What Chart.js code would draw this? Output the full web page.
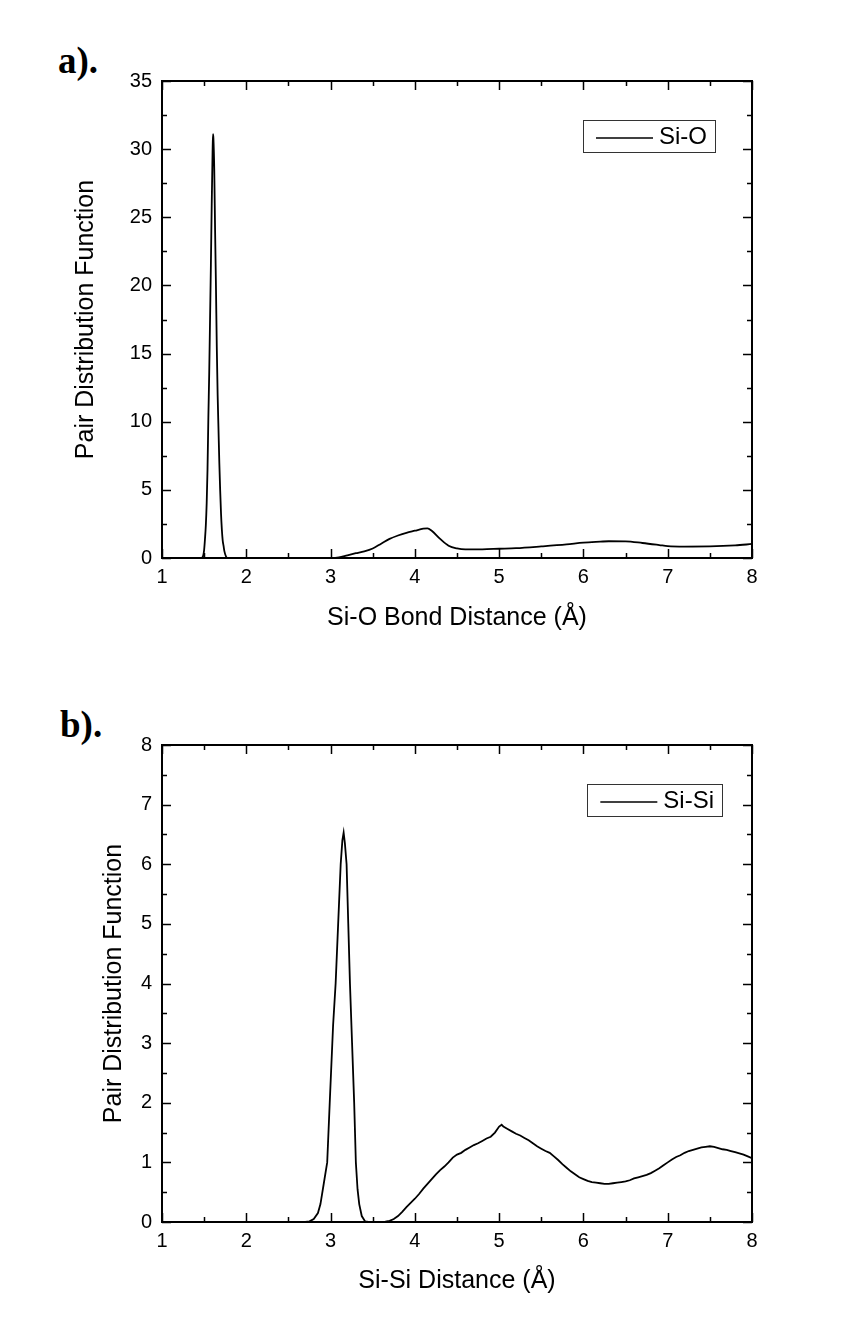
<!DOCTYPE html>
<html><head><meta charset="utf-8">
<script src="https://cdn.jsdelivr.net/npm/chart.js@4/dist/chart.umd.min.js"></script>
<style>
html,body{margin:0;padding:0;background:#fff;width:856px;height:1320px;overflow:hidden}
.panel{position:absolute;left:0;width:856px}
.lbl{position:absolute;font:bold 37px "Liberation Serif","Times New Roman",serif;line-height:1;color:#000}
</style></head><body>
<div class="lbl" style="left:58px;top:42px">a).</div>
<div class="panel" style="top:0;height:660px"><canvas id="ca"></canvas></div>
<div class="lbl" style="left:60px;top:706px">b).</div>
<div class="panel" style="top:664px;height:656px"><canvas id="cb"></canvas></div>
<script>
// ---- Data ----
const siOLabel = "Si-O";
const siOX = [1.0, 1.46, 1.48, 1.49, 1.50, 1.51, 1.52, 1.53, 1.54, 1.55, 1.56, 1.57, 1.58, 1.59, 1.60, 1.605, 1.61, 1.62, 1.63, 1.64, 1.65, 1.66, 1.67, 1.68, 1.69, 1.70, 1.71, 1.72, 1.73, 1.74, 1.76, 1.78,
  3.0, 3.1, 3.2, 3.3, 3.4, 3.5, 3.6, 3.7, 3.8, 3.9, 4.0, 4.1, 4.15, 4.2, 4.3, 4.4, 4.5, 4.6, 4.8, 5.0, 5.2, 5.5, 5.8, 6.0, 6.2, 6.3, 6.5, 6.7, 6.9, 7.0, 7.2, 7.5, 7.8, 8.0];
const siOY = [0, 0, 0.05, 0.2, 0.6, 1.4, 2.4, 4.0, 6.5, 10.3, 13.5, 17.5, 21.5, 26, 29.8, 31.1, 30.8, 28.5, 24, 20, 15.5, 12, 9.5, 7, 5, 3.3, 2.1, 1.3, 0.9, 0.5, 0.1, 0,
  0, 0.04, 0.2, 0.35, 0.49, 0.7, 1.05, 1.4, 1.65, 1.85, 2.0, 2.15, 2.18, 2.0, 1.4, 0.9, 0.7, 0.63, 0.64, 0.68, 0.72, 0.85, 1.0, 1.13, 1.2, 1.23, 1.22, 1.1, 0.95, 0.87, 0.84, 0.85, 0.92, 1.03];

const siSiLabel = "Si-Si";
const siSiX = [1.0, 2.70, 2.75, 2.80, 2.85, 2.88, 2.92, 2.96, 2.99, 3.03, 3.06, 3.09, 3.12, 3.14, 3.155, 3.17, 3.19, 3.21, 3.23, 3.255, 3.28, 3.30, 3.32, 3.34, 3.37, 3.41, 3.45,
  3.65, 3.70, 3.75, 3.80, 3.85, 3.90, 3.95, 4.00, 4.05, 4.10, 4.15, 4.20, 4.25, 4.30, 4.35, 4.40, 4.45, 4.50, 4.55, 4.60, 4.65, 4.70, 4.75, 4.80, 4.85, 4.90, 4.95, 5.00, 5.03,
  5.05, 5.10, 5.15, 5.20, 5.25, 5.30, 5.35, 5.40, 5.45, 5.50, 5.55, 5.60, 5.65, 5.70, 5.75, 5.80, 5.85, 5.90, 5.95, 6.00, 6.05, 6.10, 6.15, 6.20, 6.25, 6.30, 6.35, 6.40,
  6.45, 6.50, 6.55, 6.60, 6.65, 6.70, 6.75, 6.80, 6.85, 6.90, 6.95, 7.00, 7.05, 7.10, 7.15, 7.20, 7.25, 7.30, 7.35, 7.40, 7.45, 7.50, 7.55, 7.60, 7.65, 7.70, 7.75, 7.80,
  7.85, 7.90, 7.95, 8.00];
const siSiY = [0, 0, 0.01, 0.05, 0.15, 0.3, 0.65, 1.0, 2.0, 3.3, 4.0, 5.0, 6.0, 6.4, 6.53, 6.35, 6.0, 5.0, 4.0, 3.0, 2.0, 1.0, 0.55, 0.3, 0.1, 0.01, 0,
  0.005, 0.02, 0.05, 0.1, 0.17, 0.25, 0.32, 0.39, 0.47, 0.56, 0.64, 0.72, 0.8, 0.87, 0.93, 1.0, 1.08, 1.13, 1.16, 1.21, 1.25, 1.29, 1.32, 1.36, 1.4, 1.43, 1.5, 1.6, 1.63,
  1.6, 1.56, 1.52, 1.48, 1.45, 1.41, 1.37, 1.32, 1.27, 1.23, 1.19, 1.16, 1.1, 1.04, 0.97, 0.91, 0.85, 0.8, 0.75, 0.72, 0.69, 0.67, 0.66, 0.65, 0.64, 0.64, 0.65, 0.66,
  0.67, 0.68, 0.7, 0.73, 0.75, 0.77, 0.79, 0.82, 0.86, 0.9, 0.95, 1.0, 1.05, 1.09, 1.12, 1.16, 1.19, 1.21, 1.23, 1.25, 1.26, 1.27, 1.26, 1.24, 1.22, 1.21, 1.19, 1.17,
  1.15, 1.13, 1.1, 1.07];

const xTitleA = "Si-O Bond Distance (Å)";
const xTitleB = "Si-Si Distance (Å)";
const yTitle = "Pair Distribution Function";

// ---- Plugin: frame, inward ticks on all sides, boxed legend ----
const framePlugin = {
  id: 'frame',
  afterDatasetsDraw(chart, args, o) {
    const {ctx, chartArea: a, scales: {x, y}} = chart;
    ctx.save();
    ctx.strokeStyle = '#000';
    ctx.lineWidth = 1.5;
    const isMajor = (v, step) => Math.abs(v / step - Math.round(v / step)) < 1e-6;
    ctx.beginPath();
    for (let v = x.min; v <= x.max + 1e-9; v += o.xMinor) {
      const L = isMajor(v, o.xMajor) ? o.majorLen : o.minorLen;
      const p = Math.round(x.getPixelForValue(v)) + 0.5;
      ctx.moveTo(p, a.bottom); ctx.lineTo(p, a.bottom - L);
      ctx.moveTo(p, a.top); ctx.lineTo(p, a.top + L);
    }
    for (let v = y.min; v <= y.max + 1e-9; v += o.yMinor) {
      const L = isMajor(v, o.yMajor) ? o.majorLen : o.minorLen;
      const p = Math.round(y.getPixelForValue(v)) + 0.5;
      ctx.moveTo(a.left, p); ctx.lineTo(a.left + L, p);
      ctx.moveTo(a.right, p); ctx.lineTo(a.right - L, p);
    }
    ctx.stroke();
    ctx.lineWidth = 2;
    ctx.strokeRect(a.left, a.top, a.right - a.left, a.bottom - a.top);
    // legend
    const ds = chart.data.datasets[0];
    ctx.font = '24px "Liberation Sans", Arial, sans-serif';
    const tw = ctx.measureText(ds.label).width;
    const right = a.right - o.legendRight;
    const w = 13 + 57 + 6 + tw + 8;
    const left = right - w;
    const top = a.top + 39, h = 32;
    ctx.lineWidth = 1;
    ctx.strokeStyle = '#333';
    ctx.strokeRect(Math.round(left) + 0.5, top + 0.5, Math.round(w), h);
    ctx.strokeStyle = '#000';
    ctx.lineWidth = 1.6;
    ctx.beginPath();
    ctx.moveTo(left + 13, top + 18); ctx.lineTo(left + 70, top + 18);
    ctx.stroke();
    ctx.fillStyle = '#000';
    ctx.textBaseline = 'middle';
    ctx.textAlign = 'left';
    ctx.fillText(ds.label, left + 76, top + 17);
    ctx.restore();
  }
};

function makeChart(id, label, xs, ys, cfg) {
  const pts = xs.map((v, i) => ({x: v, y: ys[i]}));
  const tickFont = {family: '"Liberation Sans", Arial, sans-serif', size: 20};
  const titleFont = {family: '"Liberation Sans", Arial, sans-serif', size: 25};
  return new Chart(document.getElementById(id), {
    type: 'line',
    data: {datasets: [{label: label, data: pts, borderColor: '#000', borderWidth: 1.8,
      pointRadius: 0, fill: false, tension: cfg.tension, cubicInterpolationMode: cfg.cubic}]},
    options: {
      responsive: true, maintainAspectRatio: false, animation: false,
      layout: {padding: {top: 81, right: 104, left: 0, bottom: 0}},
      plugins: {legend: {display: false}, tooltip: {enabled: false},
        frame: {xMajor: 1, xMinor: 0.5, yMajor: cfg.yMajor, yMinor: cfg.yMajor / 2,
          majorLen: 9, minorLen: 5, legendRight: cfg.legendRight}},
      scales: {
        x: {type: 'linear', min: 1, max: 8,
          ticks: {stepSize: 1, color: '#000', font: tickFont, padding: 7, maxRotation: 0},
          grid: {display: false, drawTicks: false}, border: {display: false},
          title: {display: true, text: cfg.xTitle, color: '#000', font: titleFont,
            padding: {top: 0, bottom: cfg.xTitlePad}},
          afterFit: s => { s.height = cfg.xAxisH; }},
        y: {type: 'linear', min: 0, max: cfg.yMax,
          ticks: {stepSize: cfg.yMajor, color: '#000', font: tickFont, padding: 10},
          grid: {display: false, drawTicks: false}, border: {display: false},
          title: {display: true, text: yTitle, color: '#000', font: titleFont,
            padding: {top: cfg.yTitlePad, bottom: 0}},
          afterFit: s => { s.width = 162; }}
      }
    },
    plugins: [framePlugin]
  });
}

makeChart('ca', siOLabel, siOX, siOY, {tension: 0.2, cubic: 'monotone', yMax: 35, yMajor: 5,
  xTitle: xTitleA, xAxisH: 102, xTitlePad: 27, yTitlePad: 71, legendRight: 37});
makeChart('cb', siSiLabel, siSiX, siSiY, {tension: 0, cubic: 'default', yMax: 8, yMajor: 1,
  xTitle: xTitleB, xAxisH: 98, xTitlePad: 24, yTitlePad: 99, legendRight: 30});
</script>
</body></html>
